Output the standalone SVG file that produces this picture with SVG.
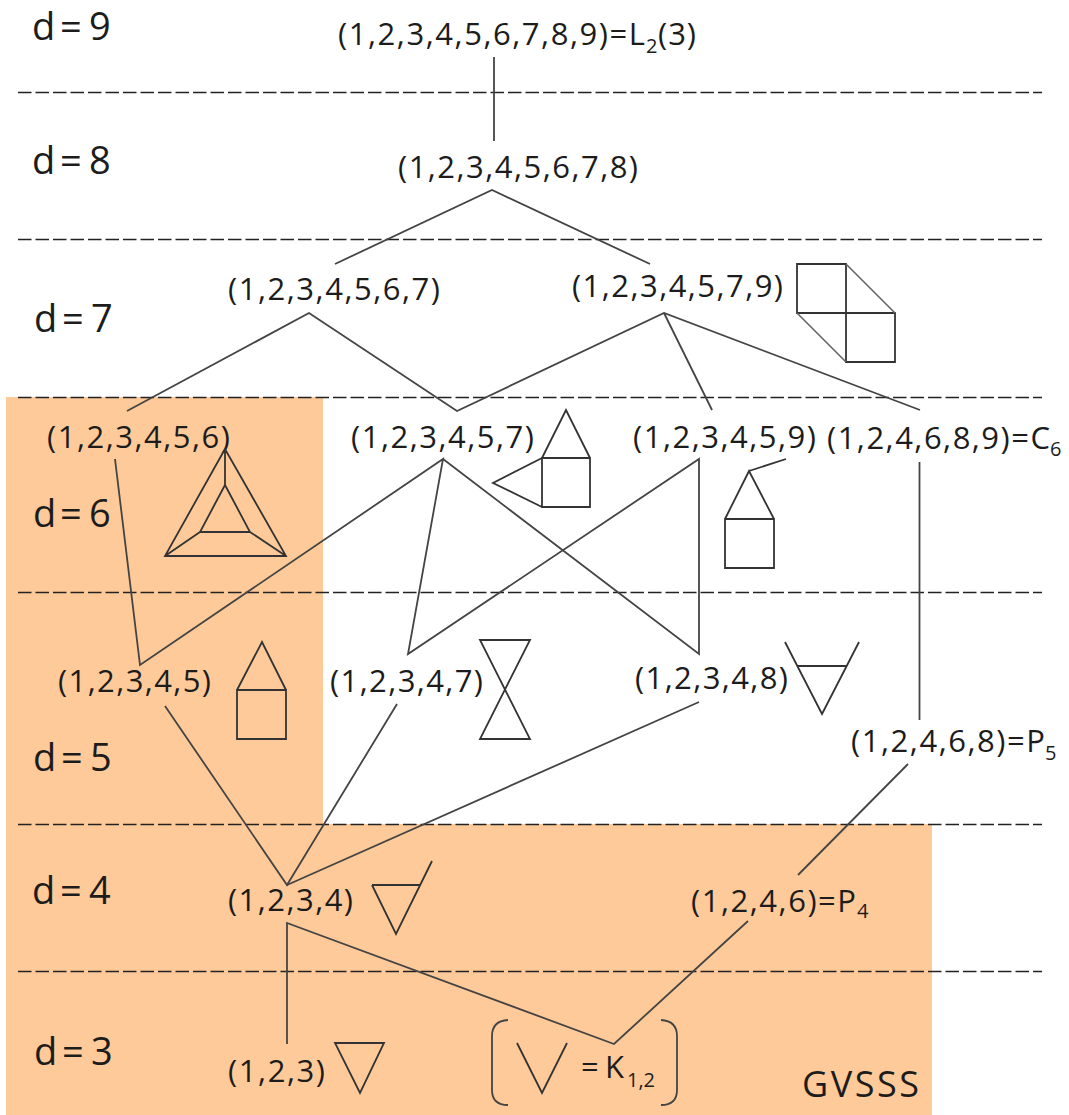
<svg xmlns="http://www.w3.org/2000/svg" width="1069" height="1115" viewBox="0 0 1069 1115">
<style>
.l{fill:none;stroke:#444;stroke-width:1.8;stroke-linejoin:miter}
.g{fill:none;stroke:#333;stroke-width:1.8}
.p{fill:none;stroke:#666;stroke-width:1.6}
.d{fill:none;stroke:#222;stroke-width:1.6;stroke-dasharray:13.5 4}
text{font-family:"Open Sans",sans-serif;fill:#1c1c1c}
.t{font-size:31px}
.h{font-size:38px}
.s{font-size:20px}
</style>
<rect width="1069" height="1115" fill="#fff"/>
<g id="background">
<path d="M6 397H323V824H932V1115H6Z" fill="#FFCA99"/>
</g>
<g id="levels">
<path class="d" d="M18 92.500H1042M18 239.500H1042M18 397.500H1042M18 592.500H1042M18 824.500H1042M18 971.500H1042"/>
<text class="h" x="32 60 89" y="40">d=9</text>
<text class="h" x="32 60 89" y="174">d=8</text>
<text class="h" x="34 62 91" y="332">d=7</text>
<text class="h" x="33 60 89" y="527">d=6</text>
<text class="h" x="33 61 90" y="771">d=5</text>
<text class="h" x="32 60 89" y="904">d=4</text>
<text class="h" x="34 62 91" y="1065">d=3</text>
</g>
<g id="connectors">
<path class="l" d="M494 57V141"/>
<path class="l" d="M335 264L492 190L650 264"/>
<path class="l" d="M127 411L309 313L457 411L664 313L920 410"/>
<path class="l" d="M664 313L712 410"/>
<path class="l" d="M115 459L140 665L443 459L408 654L699 459V654L443 459"/>
<path class="l" d="M919.500 462V720"/>
<path class="l" d="M165 706L287 885L397 704"/>
<path class="l" d="M287 885L699 702"/>
<path class="l" d="M908 764L798 875"/>
<path class="l" d="M287 1044V923L614 1044L748 921"/>
</g>
<g id="n9"><text class="t" x="338" y="45" textLength="307">(1,2,3,4,5,6,7,8,9)=L</text><text class="s" x="646" y="53">2</text><text class="t" x="658" y="45" textLength="38">(3)</text></g>
<g id="n8"><text class="t" x="398" y="178" textLength="240">(1,2,3,4,5,6,7,8)</text></g>
<g id="n7a"><text class="t" x="228" y="300" textLength="212">(1,2,3,4,5,6,7)</text></g>
<g id="n7b"><text class="t" x="572" y="297" textLength="211">(1,2,3,4,5,7,9)</text>
<path class="g" d="M797 264H846V362H895V313H797ZM797 264V313"/><path class="p" d="M846 264L895 313M797 313L846 362"/></g>
<g id="n6a"><text class="t" x="47" y="448" textLength="183">(1,2,3,4,5,6)</text>
<path class="g" d="M225 449L165 556H286ZM225 485L200 532H250ZM225 449V485M165 556L200 532M286 556L250 532"/></g>
<g id="n6b"><text class="t" x="351" y="448" textLength="183">(1,2,3,4,5,7)</text>
<path class="g" d="M542 458H590V507H542ZM542 458L566 410L590 458M542 458L493 483L542 507"/></g>
<g id="n6c"><text class="t" x="633" y="448" textLength="183">(1,2,3,4,5,9)</text>
<path class="g" d="M725 519H774V568H725ZM725 519L749 471L774 519M749 471L786 459"/></g>
<g id="n6d"><text class="t" x="827" y="449" textLength="223">(1,2,4,6,8,9)=C</text><text class="s" x="1050" y="456">6</text></g>
<g id="n5a"><text class="t" x="58" y="692" textLength="153">(1,2,3,4,5)</text>
<path class="g" d="M237 690H286V739H237ZM237 690L262 642L286 690"/></g>
<g id="n5b"><text class="t" x="330" y="692" textLength="153">(1,2,3,4,7)</text>
<path class="g" d="M480 640H530L480 739H530Z"/></g>
<g id="n5c"><text class="t" x="635" y="689" textLength="153">(1,2,3,4,8)</text>
<path class="g" d="M785 642L822 714L859 642M798 666H847"/></g>
<g id="n5d"><text class="t" x="851" y="752" textLength="194">(1,2,4,6,8)=P</text><text class="s" x="1045" y="760">5</text></g>
<g id="n4a"><text class="t" x="228" y="911" textLength="125">(1,2,3,4)</text>
<path class="g" d="M372 885H420M372 885L396 934L432 861"/></g>
<g id="n4b"><text class="t" x="691" y="912" textLength="165">(1,2,4,6)=P</text><text class="s" x="857" y="918">4</text></g>
<g id="n3a"><text class="t" x="228" y="1082" textLength="97">(1,2,3)</text>
<path class="g" d="M335 1043H384L360 1093Z"/></g>
<g id="n3b">
<path class="g" d="M517 1043L542 1093L567 1043"/>
<path class="l" d="M508 1020Q492 1021 492 1036V1090Q492 1105 508 1105M661 1020Q677 1021 677 1036V1090Q677 1105 661 1105"/>
<text class="t" x="581 605" y="1078">=K</text><text class="s" x="627" y="1087" textLength="28">1,2</text>
</g>
<g id="gvsss"><text x="802" y="1097" font-size="36" textLength="117">GVSSS</text></g>
</svg>
